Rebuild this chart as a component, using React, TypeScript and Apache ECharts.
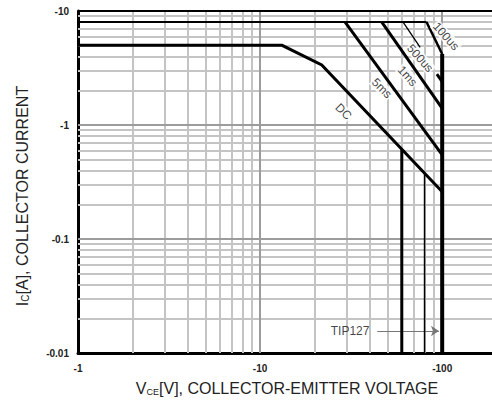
import React, { useEffect, useRef } from "react";
import * as echarts from "echarts";

const FONT = "'Liberation Sans', Arial, Helvetica, sans-serif";

// grid values
const minorX = [2, 3, 4, 5, 6, 7, 8, 9, 20, 30, 40, 50, 60, 70, 80, 90];
const majorX = [10, 100];
const minorY = [0.02, 0.03, 0.04, 0.05, 0.06, 0.07, 0.08, 0.09, 0.2, 0.3, 0.4, 0.5, 0.6, 0.7, 0.8, 0.9, 2, 3, 4, 5, 6, 7, 8, 9];
const majorY = [0.1, 1];

// SOA curves (|VCE| V, |IC| A)
const pulseTop = [[1, 8], [82, 8]];
const us100 = [[82, 8], [100, 4.2]];
const vceoLimit = [[100, 4.2], [100, 0.01]];
const us500a = [[61, 8], [75.7, 4.8]];
const us500b = [[93.5, 2.8], [100, 2.4]];
const ms1 = [[46.6, 8], [100, 1.4]];
const ms5 = [[29.3, 8], [100, 0.546]];
const dc = [[1, 5], [13.2, 5], [21.8, 3.36], [100, 0.26]];
const v60 = [[60, 0.61], [60, 0.01]];
const v80 = [[80, 0.38], [80, 0.01]];

const curveLabels = [
  { name: "100us", v: 105, i: 6.0, rot: -48 },
  { name: "500us", v: 75.7, i: 3.85, rot: -48 },
  { name: "1ms", v: 64.5, i: 2.69, rot: -48 },
  { name: "5ms", v: 46.6, i: 2.1, rot: -45 },
  { name: "DC", v: 28.7, i: 1.31, rot: -45 },
];

const tipLabel = { name: "TIP127", v: 31.2, i: 0.0156 };
const tipArrow = [[44, 0.0156], [96, 0.0156]];

function tickFmt(v: number): string {
  const l = Math.log10(v);
  const r = Math.round(l);
  if (Math.abs(l - r) > 1e-6) return "";
  return "-" + (r >= 0 ? String(Math.pow(10, r)) : Math.pow(10, r).toFixed(-r));
}

function curve(data: number[][], width: number) {
  return {
    type: "line",
    data,
    symbol: "none",
    z: 5,
    silent: true,
    lineStyle: { color: "#000", width, cap: "butt", join: "miter" },
  };
}

export default function App() {
  const ref = useRef<HTMLDivElement>(null);
  useEffect(() => {
    if (!ref.current) return;
    const chart = echarts.init(ref.current, undefined, { renderer: "svg" });
    const axisLabel = {
      formatter: tickFmt,
      fontSize: 10,
      fontWeight: "bold",
      color: "#222",
      fontFamily: FONT,
      showMinLabel: true,
      showMaxLabel: true,
    };
    const option: any = {
      animation: false,
      grid: { left: 78, top: 11, width: 419, height: 342, outerBoundsMode: "none", containLabel: false },
      xAxis: {
        type: "log",
        logBase: 10,
        min: 1,
        max: 200,
        axisLine: { show: true, onZero: false, lineStyle: { color: "#000", width: 3 } },
        axisTick: { show: false },
        splitLine: { show: false },
        axisLabel: { ...axisLabel, margin: 10 },
      },
      yAxis: {
        type: "log",
        logBase: 10,
        min: 0.01,
        max: 10,
        axisLine: { show: true, onZero: false, lineStyle: { color: "#000", width: 3 } },
        axisTick: { show: false },
        splitLine: { show: false },
        axisLabel: { ...axisLabel, margin: 9 },
      },
      graphic: [
        {
          type: "text",
          x: 22,
          y: 196,
          rotation: Math.PI / 2,
          style: {
            text: "{m|I}{s|C}{m|[A], COLLECTOR CURRENT}",
            rich: {
              m: { fontSize: 16, fontFamily: FONT, fill: "#222", verticalAlign: "middle" },
              s: { fontSize: 10, fontFamily: FONT, fill: "#222", verticalAlign: "bottom" },
            },
            align: "center",
            verticalAlign: "middle",
          },
        },
        {
          type: "text",
          x: 287,
          y: 388,
          style: {
            text: "{m|V}{s|CE}{m|[V], COLLECTOR-EMITTER VOLTAGE}",
            rich: {
              m: { fontSize: 16, fontFamily: FONT, fill: "#222", verticalAlign: "middle" },
              s: { fontSize: 9, fontFamily: FONT, fill: "#222", verticalAlign: "bottom" },
            },
            align: "center",
            verticalAlign: "middle",
          },
        },
      ],
      series: [
        {
          type: "line",
          data: [],
          symbol: "none",
          z: 1,
          silent: true,
          markLine: {
            silent: true,
            symbol: ["none", "none"],
            label: { show: false },
            lineStyle: { type: "solid", color: "#c4c4c4", width: 2 },
            data: [...minorX.map((v) => ({ xAxis: v })), ...minorY.map((v) => ({ yAxis: v }))],
          },
        },
        {
          type: "line",
          data: [],
          symbol: "none",
          z: 2,
          silent: true,
          markLine: {
            silent: true,
            symbol: ["none", "none"],
            label: { show: false },
            lineStyle: { type: "solid", color: "#9c9c9c", width: 2 },
            data: [...majorX.map((v) => ({ xAxis: v })), ...majorY.map((v) => ({ yAxis: v }))],
          },
        },
        {
          type: "line",
          data: [],
          symbol: "none",
          z: 3,
          silent: true,
          markLine: {
            silent: true,
            symbol: ["none", "none"],
            label: { show: false },
            lineStyle: { type: "solid", color: "#000", width: 2 },
            data: [{ yAxis: 10 }],
          },
        },
        curve(pulseTop, 2),
        curve(us100, 2.5),
        curve(vceoLimit, 4),
        curve(us500a, 1.3),
        curve(us500b, 3),
        curve(ms1, 3),
        curve(ms5, 3),
        curve(dc, 3),
        curve(v60, 3),
        curve(v80, 1.5),
        {
          type: "line",
          data: [],
          symbol: "none",
          z: 6,
          silent: true,
          markLine: {
            silent: true,
            symbol: ["none", "arrow"],
            symbolSize: 8,
            label: { show: false },
            itemStyle: { color: "#777" },
            lineStyle: { type: "solid", color: "#777", width: 1 },
            data: [[{ coord: tipArrow[0] }, { coord: tipArrow[1] }]],
          },
        },
        {
          type: "scatter",
          z: 7,
          silent: true,
          symbolSize: 1,
          itemStyle: { color: "rgba(0,0,0,0)" },
          label: {
            show: true,
            position: "inside",
            formatter: "{b}",
            fontSize: 12,
            color: "#111",
            fontFamily: FONT,
            backgroundColor: "#fff",
            padding: [0, 1],
          },
          data: curveLabels.map((l) => ({
            name: l.name,
            value: [l.v, l.i],
            label: { rotate: l.rot },
          })),
        },
        {
          type: "scatter",
          z: 7,
          silent: true,
          symbolSize: 1,
          itemStyle: { color: "rgba(0,0,0,0)" },
          label: {
            show: true,
            position: "inside",
            formatter: "{b}",
            fontSize: 12,
            color: "#111",
            fontFamily: FONT,
          },
          data: [{ name: tipLabel.name, value: [tipLabel.v, tipLabel.i] }],
        },
      ],
    };
    chart.setOption(option);
    return () => chart.dispose();
  }, []);
  return (
    <div
      ref={ref}
      style={{ position: "absolute", left: 0, top: 0, width: 492, height: 408, background: "#fff", overflow: "hidden" }}
    />
  );
}
